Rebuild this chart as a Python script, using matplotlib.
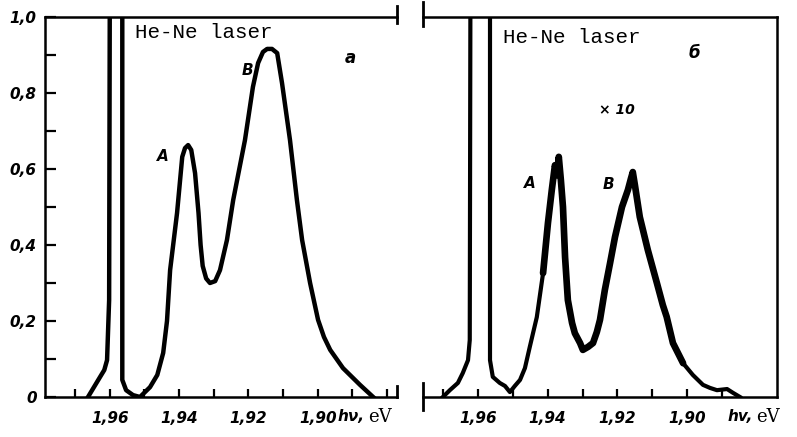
import matplotlib.pyplot as plt
from matplotlib.ticker import FixedLocator, MultipleLocator

# left panel (a): laser line + luminescence
left_ev = [1.9663, 1.9628, 1.9616, 1.9608, 1.9602, 1.9600, 1.9564, 1.9564, 1.9564,
           1.9553, 1.9533, 1.9513, 1.9484, 1.9463, 1.9446, 1.9435, 1.9426, 1.9406,
           1.9391, 1.9383, 1.9374, 1.9365, 1.9354, 1.9344, 1.9338, 1.9332, 1.9322,
           1.9311, 1.9296, 1.9282, 1.9262, 1.9244, 1.9210, 1.9187, 1.9172, 1.9158,
           1.9146, 1.9132, 1.9117, 1.9103, 1.9080, 1.9060, 1.9045, 1.9022, 1.8999,
           1.8982, 1.8964, 1.8927, 1.8878, 1.8840]
left_int = [0.0, 0.053, 0.071, 0.097, 0.255, 1.1, 1.1, 0.255, 0.045,
            0.018, 0.005, 0.0, 0.026, 0.058, 0.116, 0.2, 0.334, 0.484,
            0.632, 0.655, 0.663, 0.65, 0.589, 0.484, 0.40, 0.345, 0.312,
            0.30, 0.305, 0.334, 0.413, 0.518, 0.676, 0.816, 0.879, 0.908,
            0.916, 0.916, 0.905, 0.826, 0.676, 0.518, 0.413, 0.30, 0.203,
            0.158, 0.124, 0.076, 0.032, 0.0]

# right panel (б): same, x10 sensitivity, noisy trace
right_ev = [1.9700, 1.9680, 1.9657, 1.9643, 1.9628, 1.9623, 1.9621, 1.9565, 1.9565,
            1.9565, 1.9557, 1.9537, 1.9522, 1.9508, 1.9494, 1.9479, 1.9465, 1.9451,
            1.9431, 1.9413, 1.9399, 1.9388, 1.9379, 1.9373, 1.9368, 1.9362, 1.9356,
            1.9350, 1.9342, 1.9330, 1.9322, 1.9307, 1.9299, 1.9284, 1.9270, 1.9259,
            1.9250, 1.9236, 1.9221, 1.9207, 1.9187, 1.9170, 1.9161, 1.9156, 1.9150,
            1.9136, 1.9113, 1.9087, 1.9070, 1.9059, 1.9041, 1.9012, 1.8984, 1.8955,
            1.8935, 1.8915, 1.8886, 1.8869, 1.8849]
right_int = [0.0, 0.018, 0.037, 0.063, 0.097, 0.15, 1.1, 1.1, 0.15,
             0.097, 0.053, 0.037, 0.029, 0.013, 0.029, 0.045, 0.076, 0.132,
             0.21, 0.326, 0.458, 0.545, 0.61, 0.584, 0.632, 0.571, 0.50,
             0.368, 0.255, 0.195, 0.168, 0.142, 0.124, 0.132, 0.142, 0.171,
             0.203, 0.282, 0.353, 0.421, 0.50, 0.545, 0.576, 0.592, 0.558,
             0.474, 0.387, 0.30, 0.242, 0.211, 0.142, 0.089, 0.058, 0.032,
             0.024, 0.018, 0.021, 0.011, 0.0]

y_ticks = [0, 0.2, 0.4, 0.6, 0.8, 1.0]
y_labels = ['0', '0,2', '0,4', '0,6', '0,8', '1,0']
x_ticks_l = [1.97, 1.96, 1.95, 1.94, 1.93, 1.92, 1.91, 1.90, 1.89, 1.88]
x_ticks_r = [1.97, 1.96, 1.95, 1.94, 1.93, 1.92, 1.91, 1.90, 1.89]
x_labels = {1.96: '1,96', 1.94: '1,94', 1.92: '1,92', 1.90: '1,90'}

lblfont = dict(family='DejaVu Sans', weight='bold', style='italic')

fig = plt.figure(figsize=(7.97, 4.37), dpi=100)
axl = fig.add_axes([0.0565, 0.0915, 0.4417, 0.8696])
axr = fig.add_axes([0.5307, 0.0915, 0.4442, 0.8696])

for ax, ticks, xlim in [(axl, x_ticks_l, (1.9787, 1.8771)), (axr, x_ticks_r, (1.9757, 1.8743))]:
    ax.set_xlim(*xlim)
    ax.set_ylim(0, 1.0)
    ax.xaxis.set_major_locator(FixedLocator(ticks))
    ax.set_xticklabels([x_labels.get(round(t, 2), '') for t in ticks], fontsize=11, **lblfont)
    ax.tick_params(axis='x', direction='in', length=6, width=1.6, pad=10)
    for s in ax.spines.values():
        s.set_linewidth(1.8)

# left panel
axl.plot(left_ev, left_int, color='black', lw=3.2, solid_joinstyle='round')
axl.set_yticks(y_ticks)
axl.set_yticklabels(y_labels, fontsize=11, **lblfont)
axl.yaxis.set_minor_locator(MultipleLocator(0.1))
axl.tick_params(axis='y', which='both', direction='in', length=8, width=1.6, pad=6)
axl.spines['right'].set_visible(False)
axl.plot([1.0, 1.0], [0.985, 1.03], transform=axl.transAxes, color='black', lw=2, clip_on=False)
axl.plot([1.0, 1.0], [0.0, 0.03], transform=axl.transAxes, color='black', lw=2, clip_on=False)

axl.text(0.256, 0.958, 'He-Ne laser', transform=axl.transAxes, family='Liberation Mono',
         fontsize=15, va='center', ha='left')
axl.text(0.866, 0.892, 'а', transform=axl.transAxes, fontsize=12, ha='center', va='center', **lblfont)
axl.text(1.9446, 0.632, 'А', fontsize=11, ha='center', va='center', **lblfont)
axl.text(1.9204, 0.86, 'В', fontsize=11, ha='center', va='center', **lblfont)
axl.text(0.908, -0.052, 'hν,', transform=axl.transAxes, fontsize=11, ha='right', va='center', **lblfont)
axl.text(0.918, -0.052, 'eV', transform=axl.transAxes, family='DejaVu Serif', fontsize=13,
         ha='left', va='center')

# right panel
axr.plot(right_ev, right_int, color='black', lw=3.0, solid_joinstyle='round')
axr.plot(right_ev[19:52], right_int[19:52], color='black', lw=4.8,
         solid_joinstyle='round', solid_capstyle='round')
axr.set_yticks([])
axr.spines['left'].set_visible(False)
axr.plot([0.0, 0.0], [0.975, 1.04], transform=axr.transAxes, color='black', lw=2, clip_on=False)
axr.plot([0.0, 0.0], [-0.034, 0.037], transform=axr.transAxes, color='black', lw=2, clip_on=False)

axr.text(0.226, 0.945, 'He-Ne laser', transform=axr.transAxes, family='Liberation Mono',
         fontsize=15, va='center', ha='left')
axr.text(0.768, 0.905, 'б', transform=axr.transAxes, fontsize=12, ha='center', va='center', **lblfont)
axr.text(0.548, 0.755, '× 10', transform=axr.transAxes, fontsize=10, ha='center', va='center', **lblfont)
axr.text(1.9451, 0.563, 'А', fontsize=11, ha='center', va='center', **lblfont)
axr.text(1.9227, 0.558, 'В', fontsize=11, ha='center', va='center', **lblfont)
axr.text(0.932, -0.052, 'hv,', transform=axr.transAxes, fontsize=11, ha='right', va='center', **lblfont)
axr.text(0.940, -0.052, 'eV', transform=axr.transAxes, family='DejaVu Serif', fontsize=13,
         ha='left', va='center')

fig.savefig('out.png', dpi=100)
